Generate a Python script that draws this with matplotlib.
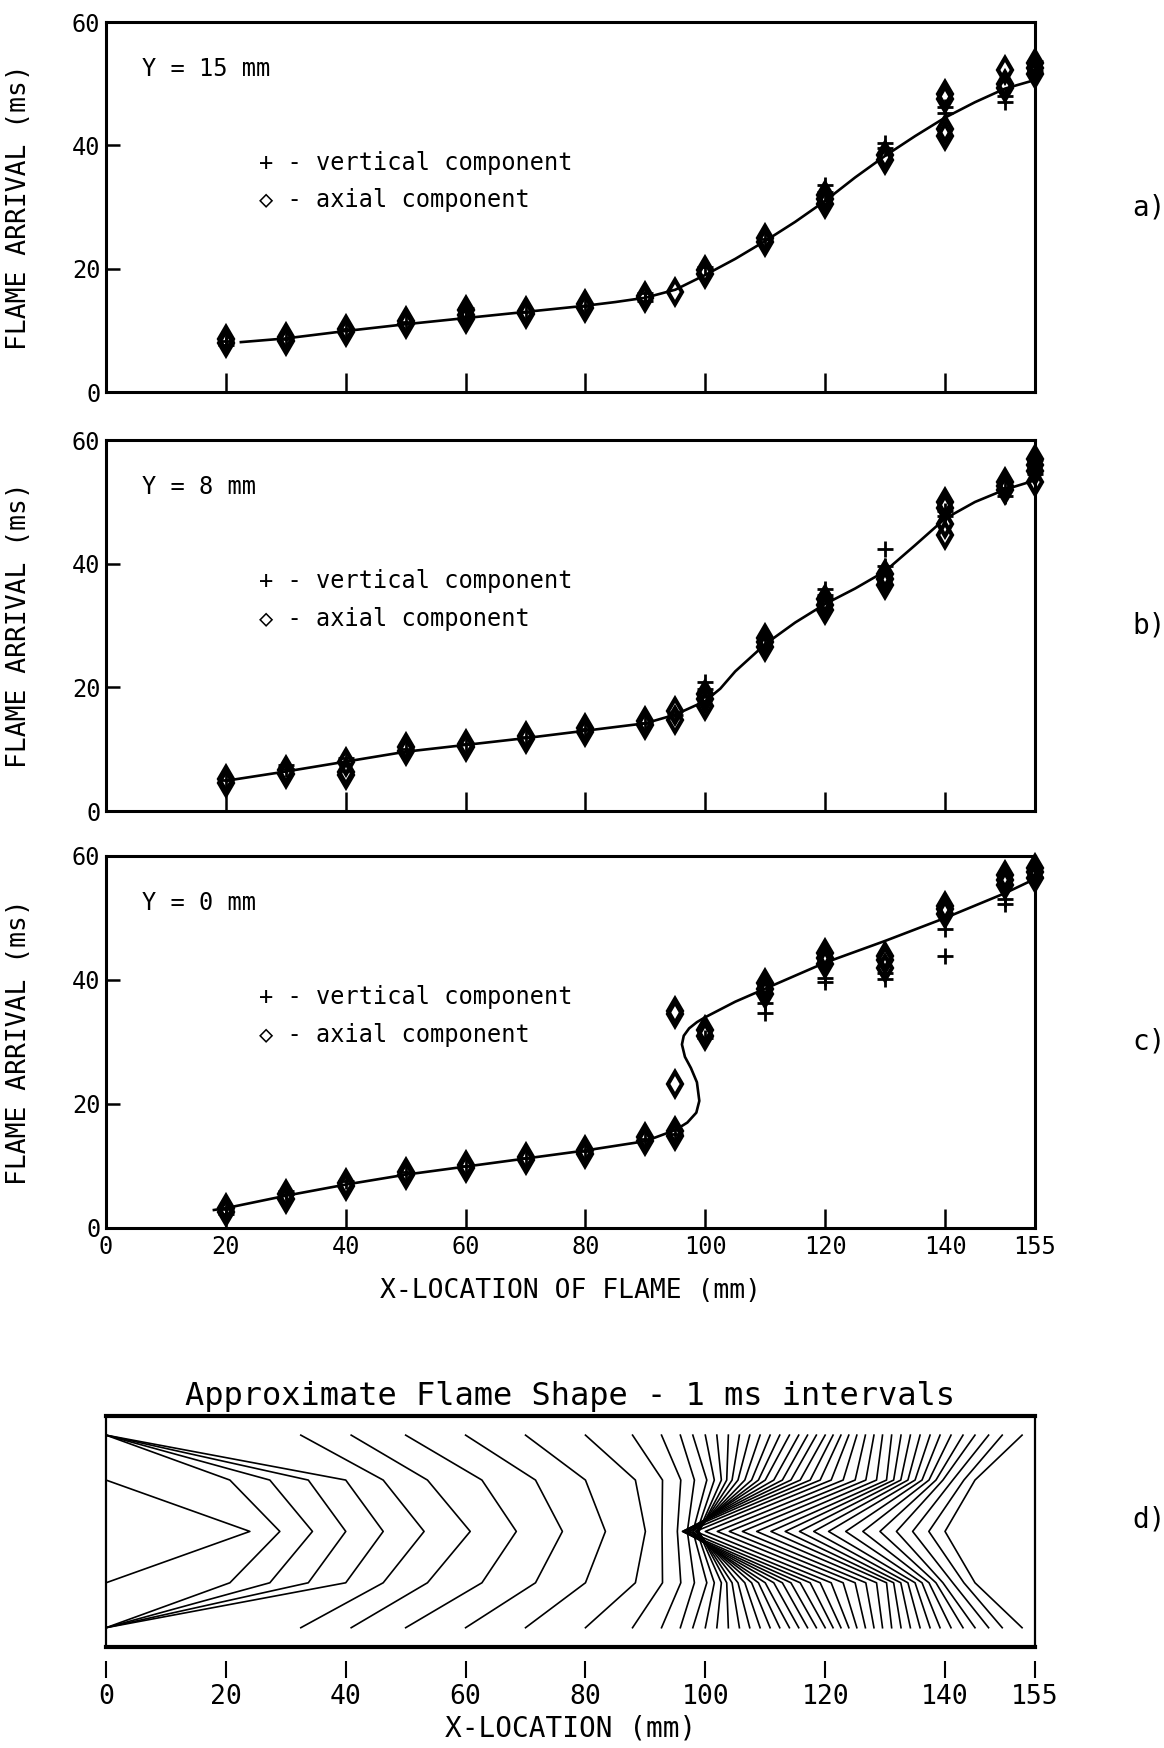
import numpy as np
import matplotlib.pyplot as plt
from matplotlib import font_manager

# ---- flame arrival time (ms) vs x-location (mm) ----
# a) Y = 15 mm
a_vert_x = [20, 20, 30, 40, 50, 60, 60, 70, 80, 90, 90, 100, 110, 120, 120, 130, 130, 140, 140, 150, 150, 155, 155]
a_vert_t = [7.6, 8.3, 8.6, 10.2, 11.4, 12.2, 13.6, 13.0, 14.0, 14.8, 16.0, 20.2, 24.8, 32.5, 33.6, 39.5, 40.4, 45.2, 46.2, 47.0, 48.0, 52.0, 53.6]
a_axial_x = [20, 20, 30, 30, 40, 40, 50, 50, 60, 60, 60, 70, 70, 80, 80, 90, 90, 95, 100, 100, 110, 110,
             120, 120, 120, 130, 130, 140, 140, 140, 140, 150, 150, 150, 155, 155, 155]
a_axial_t = [8.0, 8.6, 8.3, 8.9, 9.7, 10.3, 11.0, 11.6, 11.8, 12.5, 13.3, 12.7, 13.2, 13.6, 14.2, 15.2, 15.6, 16.2, 19.2, 19.8, 24.3, 25.0,
             30.5, 31.3, 32.0, 37.6, 38.4, 41.5, 42.6, 47.5, 48.4, 49.3, 50.0, 52.3, 51.5, 52.6, 53.4]
a_curve_x = [22.5, 30, 40, 50, 60, 70, 80, 85, 90, 95, 100, 105, 110, 115, 120, 125, 130, 135, 140, 145, 150, 155]
a_curve_t = [8.1, 8.7, 9.9, 11.0, 12.0, 13.0, 14.0, 14.6, 15.3, 16.6, 19.0, 21.6, 24.5, 27.6, 31.0, 34.8, 38.3, 41.5, 44.5, 47.0, 49.2, 50.6]

# b) Y = 8 mm
b_vert_x = [20, 30, 30, 40, 50, 60, 70, 80, 90, 95, 100, 100, 110, 120, 120, 130, 130, 140, 140, 150, 150, 155, 155]
b_vert_t = [5.0, 6.8, 7.4, 8.6, 10.0, 10.8, 12.0, 13.2, 14.2, 15.5, 19.8, 20.8, 27.8, 35.0, 36.0, 39.7, 42.4, 47.8, 48.5, 51.0, 52.2, 54.5, 56.8]
b_axial_x = [20, 20, 30, 30, 40, 40, 40, 50, 50, 60, 60, 70, 70, 80, 80, 90, 90, 95, 95, 100, 100, 100, 110, 110, 110,
             120, 120, 120, 130, 130, 130, 140, 140, 140, 140, 150, 150, 150, 155, 155, 155, 155]
b_axial_t = [4.6, 5.2, 6.0, 6.6, 5.8, 6.3, 7.9, 9.7, 10.3, 10.4, 10.9, 11.6, 12.1, 12.8, 13.4, 13.9, 14.5, 14.7, 16.2, 17.0, 18.2, 19.0, 26.5, 27.4, 28.0,
             32.6, 33.4, 34.3, 36.5, 37.6, 38.3, 44.6, 46.5, 49.0, 50.0, 51.9, 52.6, 53.2, 53.2, 55.0, 56.0, 57.0]
b_curve_x = [20, 30, 40, 50, 60, 70, 80, 90, 95, 100, 102.5, 105, 110, 115, 120, 125, 130, 135, 140, 145, 150, 155]
b_curve_t = [4.9, 6.4, 8.0, 9.6, 10.7, 11.8, 13.0, 14.2, 15.6, 17.8, 19.8, 22.6, 27.0, 30.5, 33.5, 36.0, 38.8, 43.0, 47.3, 50.0, 52.0, 53.5]

# c) Y = 0 mm
c_vert_x = [20, 20, 30, 30, 40, 50, 60, 70, 80, 90, 95, 100, 110, 110, 120, 120, 130, 130, 140, 140, 150, 150, 155]
c_vert_t = [2.2, 3.0, 5.5, 6.0, 7.5, 9.0, 10.0, 11.3, 12.4, 14.4, 15.2, 30.6, 34.7, 36.3, 39.7, 40.4, 40.1, 41.2, 43.9, 48.2, 52.2, 53.0, 56.6]
c_axial_x = [20, 20, 30, 30, 40, 40, 50, 50, 60, 60, 70, 70, 80, 80, 90, 90, 95, 95, 95, 95, 95, 100, 100,
             110, 110, 110, 120, 120, 120, 130, 130, 130, 140, 140, 140, 150, 150, 150, 155, 155, 155]
c_axial_t = [2.6, 3.2, 4.7, 5.4, 6.7, 7.2, 8.6, 9.1, 9.7, 10.2, 10.9, 11.4, 11.9, 12.6, 14.0, 14.6, 14.9, 15.6, 23.3, 34.5, 35.0, 31.0, 31.9,
             37.8, 38.6, 39.5, 42.6, 43.6, 44.3, 42.0, 43.2, 43.9, 50.6, 51.4, 52.0, 55.4, 56.2, 56.9, 56.5, 57.4, 58.0]
c_curve_x = [18, 20, 30, 40, 50, 60, 70, 80, 90, 95, 97, 98.5, 99.0, 98.6, 97.6, 96.6, 96.1, 96.4, 97.3, 98.6, 100,
             105, 110, 120, 130, 140, 150, 155]
c_curve_t = [2.9, 3.2, 5.2, 7.0, 8.6, 9.9, 11.2, 12.5, 14.0, 15.8, 17.0, 18.6, 20.5, 23.5, 25.8, 27.6, 29.6, 31.0, 32.2, 33.2, 34.0,
             36.5, 38.6, 42.8, 46.3, 50.0, 54.0, 56.3]

# d) flame shape every 1 ms: x-position reached at each probe height Y
shape_times = np.arange(4, 51)
probe_y = [15, 8, 0]

x_ticks = [0, 20, 40, 60, 80, 100, 120, 140, 155]
x_labels = ['0', '20', '40', '60', '80', '100', '120', '140', '155']

mono = ['DejaVu Sans Mono', 'DejaVu Sans']
plt.rcParams['font.family'] = mono

fig = plt.figure(figsize=(11.64, 17.48), dpi=100)

panels = [
    ('Y = 15 mm', 'a)', a_vert_x, a_vert_t, a_axial_x, a_axial_t, a_curve_x, a_curve_t),
    ('Y = 8 mm', 'b)', b_vert_x, b_vert_t, b_axial_x, b_axial_t, b_curve_x, b_curve_t),
    ('Y = 0 mm', 'c)', c_vert_x, c_vert_t, c_axial_x, c_axial_t, c_curve_x, c_curve_t),
]
rects = [[0.0911, 0.7757, 0.798, 0.2117],
         [0.0911, 0.5360, 0.798, 0.2122],
         [0.0911, 0.2975, 0.798, 0.2128]]

for i, (ylab, tag, vx, vt, ax_x, ax_t, cx, ct) in enumerate(panels):
    ax = fig.add_axes(rects[i])
    ax.plot(cx, ct, color='k', lw=1.9)
    ax.plot(ax_x, ax_t, ls='none', marker='d', ms=12, mfc='none', mec='k', mew=3.0, clip_on=False)
    ax.plot(vx, vt, ls='none', marker='+', ms=11, mec='k', mew=2.0, clip_on=False)
    ax.set_xlim(0, 155)
    ax.set_ylim(0, 60)
    ax.set_xticks(x_ticks)
    ax.set_yticks([0, 20, 40, 60])
    ax.tick_params(direction='in', width=1.8, labelsize=17)
    ax.tick_params(axis='x', length=14, pad=5)
    ax.tick_params(axis='y', length=10, pad=4)
    for s in ax.spines.values():
        s.set_linewidth(2.2)
    ax.set_ylabel('FLAME ARRIVAL (ms)', fontsize=19)
    ax.yaxis.set_label_coords(-0.08, 0.5)
    ax.text(6, 52.4, ylab, fontsize=17, va='center')
    ax.text(25.5, 37.2, '+ - vertical component', fontsize=17, va='center')
    ax.text(25.5, 31.1, '\u25c7 - axial component', fontsize=17, va='center')
    ax.text(1.105, 0.5, tag, transform=ax.transAxes, fontsize=20, va='center')
    if i < 2:
        ax.set_xticklabels([])
    else:
        ax.set_xticklabels(x_labels)
        ax.set_xlabel('X-LOCATION OF FLAME (mm)', fontsize=19)
        ax.xaxis.set_label_coords(0.5, -0.135)

# flame shape panel
axd = fig.add_axes([0.0911, 0.0578, 0.798, 0.1322])
for t in shape_times:
    xa = np.interp(t, a_curve_t, a_curve_x, left=0, right=155)
    xb = np.interp(t, b_curve_t, b_curve_x, left=0, right=155)
    xc = np.interp(t, c_curve_t, c_curve_x, left=0, right=155)
    xs = [xa, xb, xc, xb, xa]
    ys = probe_y + [-y for y in probe_y[1::-1]]
    axd.plot(xs, ys, color='k', lw=1.2)
axd.set_xlim(0, 155)
axd.set_ylim(-18, 18)
axd.set_yticks([])
axd.tick_params(bottom=False, labelbottom=False)
axd.spines['top'].set_linewidth(3)
axd.spines['bottom'].set_linewidth(3)
axd.spines['left'].set_linewidth(1.6)
axd.spines['right'].set_linewidth(1.6)
axd.set_title('Approximate Flame Shape - 1 ms intervals', fontsize=23, pad=8)
axd.text(1.105, 0.55, 'd)', transform=axd.transAxes, fontsize=20, va='center')

sec = axd.secondary_xaxis(-0.06)
sec.set_xticks(x_ticks)
sec.set_xticklabels(x_labels, fontsize=19)
sec.tick_params(direction='out', length=12, width=1.5, pad=5)
sec.spines['bottom'].set_visible(False)
sec.set_xlabel('X-LOCATION (mm)', fontsize=20, labelpad=3)

fig.savefig('out.png', dpi=100)
